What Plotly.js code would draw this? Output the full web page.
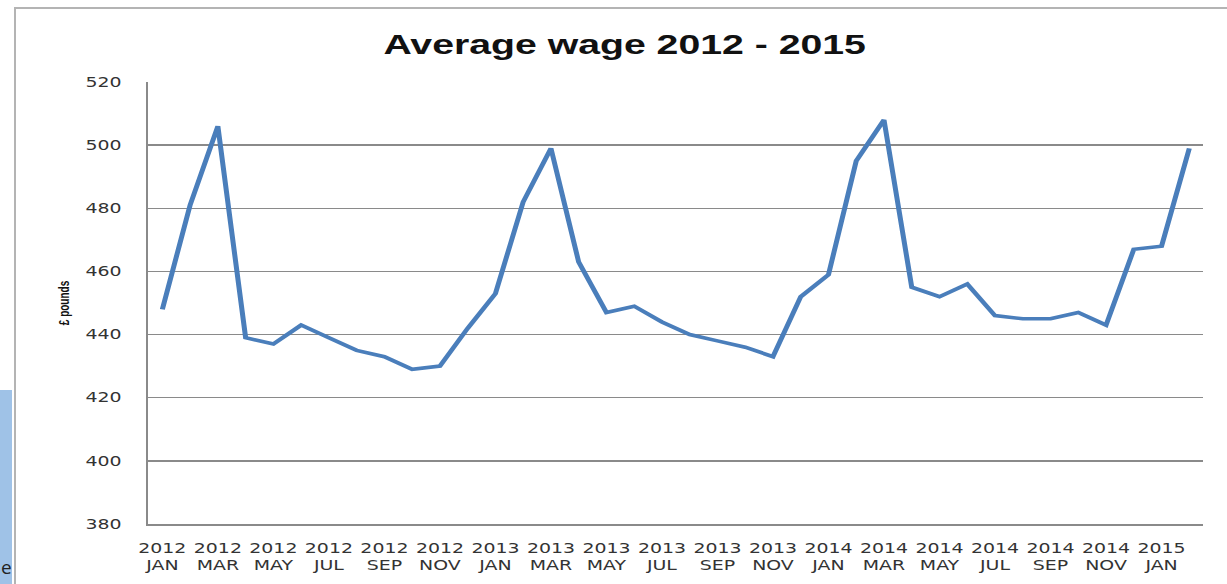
<!DOCTYPE html>
<html>
<head>
<meta charset="utf-8">
<script src="https://cdn.plot.ly/plotly-3.0.1.min.js"></script>
<style>
  html, body { margin: 0; padding: 0; background: #ffffff; }
  body { width: 1227px; height: 584px; position: relative; overflow: hidden; }
  #plot { position: absolute; left: 0; top: 0; width: 876px; height: 584px; z-index: 1;
          transform: scaleX(1.40068); transform-origin: 0 0; }
  .deco { position: absolute; z-index: 2; }
  #frameTop { left: 15px; top: 7px; width: 1212px; height: 2px; background: #b4b4b4; }
  #frameLeft { left: 14px; top: 7px; width: 2px; height: 577px; background: #b4b4b4; }
  #blueBox { left: 0; top: 390px; width: 12px; height: 194px; background: #9fc2e7; }
  #blueText { left: 1px; top: 558px; font-family: "Open Sans", sans-serif; font-size: 19px; color: #222; line-height: 1; }
</style>
</head>
<body>
<div id="plot"></div>
<div id="frameTop" class="deco"></div>
<div id="frameLeft" class="deco"></div>
<div id="blueBox" class="deco"></div>
<div id="blueText" class="deco">e</div>
<script>
// ---- data ----
const years = ["2012","2012","2012","2012","2012","2012","2012","2012","2012","2012","2012","2012",
               "2013","2013","2013","2013","2013","2013","2013","2013","2013","2013","2013","2013",
               "2014","2014","2014","2014","2014","2014","2014","2014","2014","2014","2014","2014",
               "2015","2015"];
const months = ["JAN","FEB","MAR","APR","MAY","JUN","JUL","AUG","SEP","OCT","NOV","DEC",
                "JAN","FEB","MAR","APR","MAY","JUN","JUL","AUG","SEP","OCT","NOV","DEC",
                "JAN","FEB","MAR","APR","MAY","JUN","JUL","AUG","SEP","OCT","NOV","DEC",
                "JAN","FEB"];
const wages = [448, 481, 506, 439, 437, 443, 439, 435, 433, 429, 430, 442,
               453, 482, 499, 463, 447, 449, 444, 440, 438, 436, 433, 452,
               459, 495, 508, 455, 452, 456, 446, 445, 445, 447, 443, 467,
               468, 499];
const yTicks = [380, 400, 420, 440, 460, 480, 500, 520];
const chartTitle = "Average wage 2012 - 2015";
const yTitle = "£ pounds";

// ---- build ----
const categories = years.map((y, i) => y + " " + months[i]);
const tickvals = categories.filter((c, i) => i % 2 === 0);
const ticktext = categories.map((c, i) => years[i] + "<br>" + months[i]).filter((c, i) => i % 2 === 0);

const trace = {
  type: "scatter",
  mode: "lines",
  x: categories,
  y: wages,
  line: { color: "#4a7ebb", width: 3.6 },
  hoverinfo: "x+y"
};

const tickFont = { family: "DejaVu Sans, Verdana, sans-serif", size: 13.5, color: "#333333" };

const layout = {
  width: 876,
  height: 584,
  margin: { l: 106, r: 17, t: 82, b: 60 },
  paper_bgcolor: "rgba(255,255,255,0)",
  plot_bgcolor: "#ffffff",
  showlegend: false,
  title: {
    text: chartTitle,
    font: { family: "Liberation Sans, Arial, sans-serif", size: 28, color: "#111111", weight: "bold" },
    xref: "container", x: 446 / 876, xanchor: "center",
    yref: "container", y: 1 - 44 / 584, yanchor: "middle"
  },
  xaxis: {
    type: "category",
    range: [-0.5, categories.length - 0.5],
    tickmode: "array",
    tickvals: tickvals,
    ticktext: ticktext,
    tickangle: 0,
    ticks: "",
    showgrid: false,
    showline: true,
    linecolor: "#8a8a8a",
    linewidth: 1.5,
    zeroline: false,
    tickfont: tickFont,
    ticklabelstandoff: 11,
    fixedrange: true
  },
  yaxis: {
    range: [380, 520],
    tickmode: "array",
    tickvals: yTicks,
    ticks: "",
    showgrid: true,
    gridcolor: "#8a8a8a",
    gridwidth: 1.3,
    showline: true,
    linecolor: "#8a8a8a",
    linewidth: 1.5,
    zeroline: false,
    tickfont: tickFont,
    ticklabelstandoff: 15,
    title: {
      text: yTitle,
      font: { family: "Liberation Sans, Arial, sans-serif", size: 10, color: "#111111", weight: "bold" },
      standoff: 9
    },
    fixedrange: true
  }
};

Plotly.newPlot("plot", [trace], layout, { displayModeBar: false, responsive: false, staticPlot: true });
</script>
</body>
</html>
